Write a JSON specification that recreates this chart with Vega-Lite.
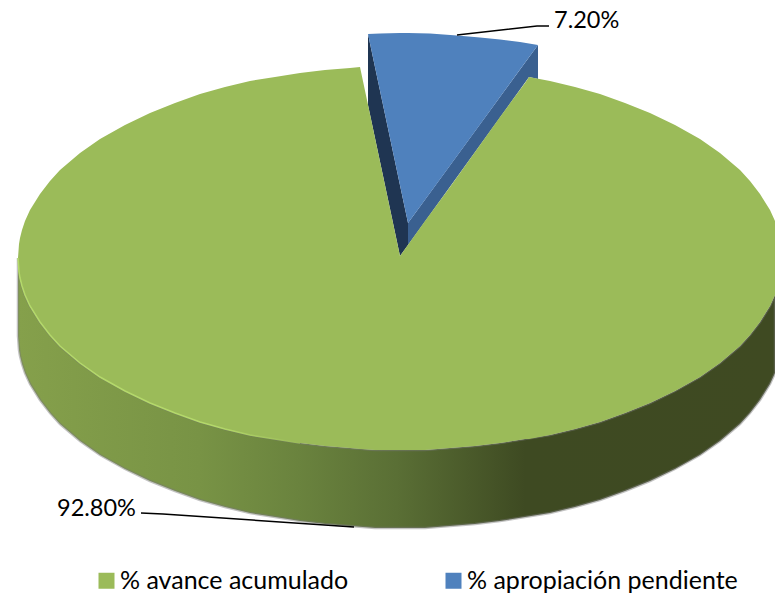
{"$schema":"https://vega.github.io/schema/vega-lite/v6.json","width":775,"height":593,"padding":0,"autosize":"none","background":"white","config":{"view":{"stroke":null}},
"datasets":{
"wall":[{"x":18,"y":258,"y2":336},{"x":19,"y":272,"y2":350},{"x":20,"y":278,"y2":356},{"x":22,"y":286,"y2":364},{"x":25,"y":295,"y2":373},{"x":30,"y":306,"y2":384},{"x":40,"y":322,"y2":400},{"x":50,"y":335,"y2":413},{"x":60,"y":346,"y2":424},{"x":80,"y":363,"y2":441},{"x":100,"y":377,"y2":455},{"x":125,"y":391,"y2":469},{"x":150,"y":403,"y2":481},{"x":175,"y":413,"y2":491},{"x":200,"y":422,"y2":500},{"x":225,"y":429,"y2":507},{"x":250,"y":435,"y2":513},{"x":275,"y":439,"y2":517},{"x":300,"y":443,"y2":521},{"x":325,"y":446,"y2":524},{"x":350,"y":448,"y2":526},{"x":375,"y":450,"y2":528},{"x":400,"y":450,"y2":528},{"x":425,"y":450,"y2":528},{"x":450,"y":448,"y2":526},{"x":475,"y":446,"y2":524},{"x":500,"y":443,"y2":521},{"x":525,"y":439,"y2":517},{"x":550,"y":435,"y2":513},{"x":575,"y":429,"y2":507},{"x":600,"y":422,"y2":500},{"x":625,"y":413,"y2":491},{"x":650,"y":403,"y2":481},{"x":675,"y":391,"y2":469},{"x":700,"y":377,"y2":455},{"x":720,"y":363,"y2":441},{"x":740,"y":346,"y2":424},{"x":750,"y":335,"y2":413},{"x":760,"y":322,"y2":400},{"x":770,"y":306,"y2":384},{"x":775,"y":295,"y2":373}],
"green":[{"serie":"% avance acumulado","x":18,"y":258,"y2":258},{"serie":"% avance acumulado","x":19,"y":244,"y2":272},{"serie":"% avance acumulado","x":20,"y":238,"y2":278},{"serie":"% avance acumulado","x":22,"y":230,"y2":286},{"serie":"% avance acumulado","x":25,"y":221,"y2":295},{"serie":"% avance acumulado","x":30,"y":210,"y2":306},{"serie":"% avance acumulado","x":40,"y":194,"y2":322},{"serie":"% avance acumulado","x":50,"y":181,"y2":335},{"serie":"% avance acumulado","x":60,"y":170,"y2":346},{"serie":"% avance acumulado","x":80,"y":153,"y2":363},{"serie":"% avance acumulado","x":100,"y":139,"y2":377},{"serie":"% avance acumulado","x":125,"y":125,"y2":391},{"serie":"% avance acumulado","x":150,"y":113,"y2":403},{"serie":"% avance acumulado","x":175,"y":103,"y2":413},{"serie":"% avance acumulado","x":200,"y":94,"y2":422},{"serie":"% avance acumulado","x":225,"y":87,"y2":429},{"serie":"% avance acumulado","x":250,"y":81,"y2":435},{"serie":"% avance acumulado","x":275,"y":77,"y2":439},{"serie":"% avance acumulado","x":300,"y":73,"y2":443},{"serie":"% avance acumulado","x":325,"y":70,"y2":446},{"serie":"% avance acumulado","x":350,"y":68,"y2":448},{"serie":"% avance acumulado","x":360,"y":67,"y2":449},{"serie":"% avance acumulado","x":375,"y":138,"y2":450},{"serie":"% avance acumulado","x":400,"y":256,"y2":450},{"serie":"% avance acumulado","x":425,"y":221,"y2":450},{"serie":"% avance acumulado","x":450,"y":187,"y2":448},{"serie":"% avance acumulado","x":475,"y":152,"y2":446},{"serie":"% avance acumulado","x":500,"y":117,"y2":443},{"serie":"% avance acumulado","x":525,"y":83,"y2":439},{"serie":"% avance acumulado","x":529,"y":77,"y2":439},{"serie":"% avance acumulado","x":550,"y":81,"y2":435},{"serie":"% avance acumulado","x":575,"y":87,"y2":429},{"serie":"% avance acumulado","x":600,"y":94,"y2":422},{"serie":"% avance acumulado","x":625,"y":103,"y2":413},{"serie":"% avance acumulado","x":650,"y":113,"y2":403},{"serie":"% avance acumulado","x":675,"y":125,"y2":391},{"serie":"% avance acumulado","x":700,"y":139,"y2":377},{"serie":"% avance acumulado","x":720,"y":153,"y2":363},{"serie":"% avance acumulado","x":740,"y":170,"y2":346},{"serie":"% avance acumulado","x":750,"y":181,"y2":335},{"serie":"% avance acumulado","x":760,"y":194,"y2":322},{"serie":"% avance acumulado","x":770,"y":210,"y2":306},{"serie":"% avance acumulado","x":775,"y":221,"y2":295}],
"blue":[{"serie":"% apropiación pendiente","x":368,"y":34,"y2":34},{"serie":"% apropiación pendiente","x":380,"y":33.5,"y2":90.7},{"serie":"% apropiación pendiente","x":400,"y":33,"y2":185.2},{"serie":"% apropiación pendiente","x":408,"y":33,"y2":223},{"serie":"% apropiación pendiente","x":430,"y":33.5,"y2":192.9},{"serie":"% apropiación pendiente","x":457,"y":35.5,"y2":156},{"serie":"% apropiación pendiente","x":480,"y":37.5,"y2":124.4},{"serie":"% apropiación pendiente","x":500,"y":39.5,"y2":97},{"serie":"% apropiación pendiente","x":520,"y":42,"y2":69.6},{"serie":"% apropiación pendiente","x":538,"y":45,"y2":45}],
"darkWall":[{"x":368,"y":34,"y2":105},{"x":400,"y":185.2,"y2":256},{"x":408,"y":223,"y2":245}],
"midWall":[{"x":408,"y":223,"y2":245},{"x":529,"y":57.3,"y2":77},{"x":538,"y":45,"y2":79}],
"edge":[{"x":18,"y":258},{"x":19,"y":272},{"x":20,"y":278},{"x":22,"y":286},{"x":25,"y":295},{"x":30,"y":306},{"x":40,"y":322},{"x":50,"y":335},{"x":60,"y":346},{"x":80,"y":363},{"x":100,"y":377},{"x":125,"y":391},{"x":150,"y":403},{"x":175,"y":413},{"x":200,"y":422},{"x":225,"y":429},{"x":250,"y":435},{"x":275,"y":439},{"x":300,"y":443}],
"leader":[{"g":"a","x":457,"y":35},{"g":"a","x":537,"y":26},{"g":"a","x":549,"y":26},{"g":"b","x":141,"y":513},{"g":"b","x":163,"y":514},{"g":"b","x":354,"y":527}],
"labels":[{"t":"7.20%","x":554,"y":28},{"t":"92.80%","x":57,"y":516}]
},
"layer":[
{"data":{"name":"wall"},"mark":{"type":"area","stroke":"#777777","strokeOpacity":0.45,"strokeWidth":2.5,"color":{"gradient":"linear","x1":0,"y1":0,"x2":1,"y2":0,"stops":[{"offset":0,"color":"#85a04b"},{"offset":0.24,"color":"#789345"},{"offset":0.37,"color":"#6a833e"},{"offset":0.5,"color":"#5a6f35"},{"offset":0.67,"color":"#3e4a22"},{"offset":1,"color":"#3f4a22"}]}},"encoding":{"x":{"field":"x","type":"quantitative","scale":{"domain":[0,775],"nice":false},"axis":null},"y":{"field":"y","type":"quantitative","scale":{"domain":[0,593],"nice":false,"reverse":true},"axis":null},"y2":{"field":"y2"}}},
{"data":{"name":"darkWall"},"mark":{"type":"area","color":"#1f3552"},"encoding":{"x":{"field":"x","type":"quantitative"},"y":{"field":"y","type":"quantitative"},"y2":{"field":"y2"}}},
{"data":{"name":"midWall"},"mark":{"type":"area","color":"#3a6090"},"encoding":{"x":{"field":"x","type":"quantitative"},"y":{"field":"y","type":"quantitative"},"y2":{"field":"y2"}}},
{"data":{"name":"blue"},"mark":{"type":"area"},"encoding":{"x":{"field":"x","type":"quantitative"},"y":{"field":"y","type":"quantitative"},"y2":{"field":"y2"},"color":{"field":"serie","type":"nominal","scale":{"domain":["% avance acumulado","% apropiación pendiente"],"range":["#9bbb59","#4f81bd"]},"legend":{"title":null,"orient":"none","legendX":94,"legendY":568,"padding":0,"direction":"horizontal","columns":2,"symbolType":"square","symbolSize":256,"symbolStrokeWidth":0,"labelFont":"Lato","labelFontSize":25,"labelColor":"#000000","labelOffset":1,"columnPadding":92,"labelLimit":400,"symbolOpacity":1}}}},
{"data":{"name":"green"},"mark":{"type":"area"},"encoding":{"x":{"field":"x","type":"quantitative"},"y":{"field":"y","type":"quantitative"},"y2":{"field":"y2"},"color":{"field":"serie","type":"nominal"}}},
{"data":{"name":"edge"},"mark":{"type":"line","strokeWidth":1.5,"color":{"gradient":"linear","x1":0,"y1":0,"x2":1,"y2":0,"stops":[{"offset":0,"color":"#b4d96a"},{"offset":0.7,"color":"#b4d96a"},{"offset":1,"color":"#9bbb59"}]}},"encoding":{"x":{"field":"x","type":"quantitative"},"y":{"field":"y","type":"quantitative"}}},
{"data":{"name":"leader"},"mark":{"type":"line","color":"#000000","strokeWidth":1.5},"encoding":{"detail":{"field":"g"},"x":{"field":"x","type":"quantitative"},"y":{"field":"y","type":"quantitative"}}},
{"data":{"name":"labels"},"mark":{"type":"text","align":"left","baseline":"alphabetic","font":"Lato","fontSize":23.5,"color":"#000000"},"encoding":{"x":{"field":"x","type":"quantitative"},"y":{"field":"y","type":"quantitative"},"text":{"field":"t"}}}
]}
